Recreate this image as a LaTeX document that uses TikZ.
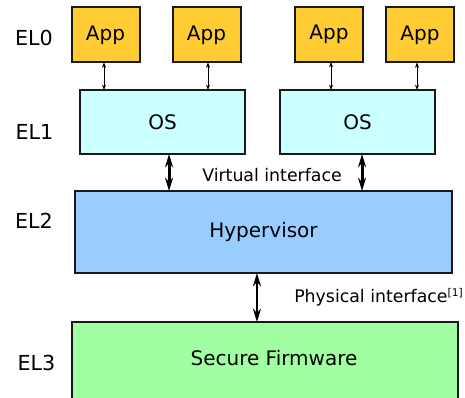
\documentclass[tikz,border=0pt]{standalone}
\usepackage{fontspec}
\setmainfont{DejaVu Sans}
\usetikzlibrary{arrows.meta}

\definecolor{appfill}{HTML}{FFCC33}
\definecolor{osfill}{HTML}{CCFFFF}
\definecolor{hypfill}{HTML}{99CCFF}
\definecolor{fwfill}{HTML}{A0FFA0}

\begin{document}
\begin{tikzpicture}[x=0.75pt,y=-0.75pt,
    box/.style={draw=black!90,outer sep=0pt,inner sep=0pt,font=\fontsize{15}{18}\selectfont},
    appbox/.style={box,fill=appfill,line width=1.5pt,minimum width=51pt,minimum height=41.25pt},
    osbox/.style={box,fill=osfill,line width=1pt,minimum height=48pt},
    levelbox/.style={box,line width=2.2pt},
    lvl/.style={font=\fontsize{15.5}{18}\selectfont},
    note/.style={font=\fontsize{13}{15}\selectfont,inner sep=0pt},
    thin link/.style={{Stealth[length=4pt,width=3pt]}-{Stealth[length=4pt,width=3pt]},line width=0.5pt},
    bus/.style={{Stealth[length=10pt,width=6pt]}-{Stealth[length=10pt,width=6pt]},line width=2.2pt}]
    \useasboundingbox (0,0) rectangle (465,398);
    \clip (0,0) rectangle (465,398);

    % exception levels
    \node[lvl] (el0) at (34,38) {EL0};
    \node[lvl] (el1) at (34.5,132) {EL1};
    \node[lvl] (el2) at (34,221) {EL2};
    \node[lvl] (el3) at (36.5,363) {EL3};

    % applications
    \foreach \name/\x/\y in {app1/105.5/35, app2/206.5/35, app3/329/34.5, app4/420/35}
    {
        \node[appbox] (\name) at (\x,\y) {App};
    }

    % guest OSes
    \node[osbox,minimum width=123.75pt] (os1) at (162.5,122) {OS};
    \node[osbox,minimum width=116.25pt] (os2) at (357.5,122) {OS};

    \node[levelbox,fill=hypfill,minimum width=282.75pt,minimum height=61.5pt] (hyp) at (263.5,232) {Hypervisor};
    % box runs past the bottom edge, text sits higher
    \node[levelbox,fill=fwfill,minimum width=289.5pt,minimum height=66pt,text depth=12.6pt] (fw) at (265,366) {\hspace*{13.5pt}Secure Firmware};

    % Same links for every app
    \foreach \app/\os/\dx in {app1/os1/-1.5, app2/os1/1.5, app3/os2/2, app4/os2/-3}
    {
        \draw[thin link] ([xshift=\dx*0.75pt]\app.south) -- ([xshift=\dx*0.75pt]\app.south |- \os.north);
    }

    \draw[bus] ([xshift=4.9pt]os1.south) -- ([xshift=4.9pt]os1.south |- hyp.north);
    \draw[bus] ([xshift=3.4pt]os2.south) -- ([xshift=3.4pt]os2.south |- hyp.north);
    \node[note] (virt) at (272,175) {Virtual interface};

    \draw[bus] ([xshift=-4.9pt]hyp.south) -- ([xshift=-4.9pt]hyp.south |- fw.north);
    \node[note,anchor=west] (phys) at (294,297) {Physical interface\textsuperscript{\fontsize{8}{9}\selectfont[1]}};

\end{tikzpicture}
\end{document}
